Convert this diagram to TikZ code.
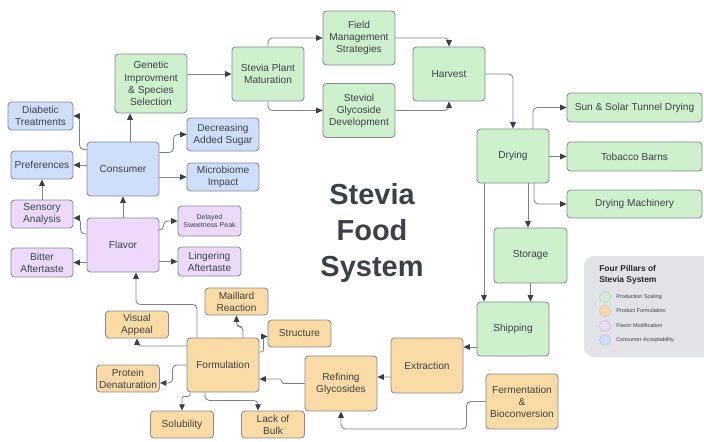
\documentclass[tikz,border=0pt]{standalone}
\usepackage{fontspec}
\setmainfont{Liberation Sans}
\usetikzlibrary{calc,arrows.meta}

\definecolor{prodfill}{HTML}{CFF0CC}
\definecolor{formfill}{HTML}{FADBA5}
\definecolor{flavfill}{HTML}{EDDAFA}
\definecolor{consfill}{HTML}{CFDEFA}
\definecolor{boxline}{HTML}{858B92}
\definecolor{wire}{HTML}{7C828A}
\definecolor{tipcol}{HTML}{3A4048}
\definecolor{ink}{HTML}{3B4149}
\definecolor{keyfill}{HTML}{E1E3E7}
\definecolor{keyline}{HTML}{C4C8CE}

\tikzset{
  pbox/.style={draw=boxline, line width=0.6pt, rounded corners=2.5pt, inner sep=0pt,
    align=center, text=ink, font=\fontsize{7.2}{8.6}\selectfont},
  bigbox/.style={pbox, minimum width=1.8cm, minimum height=1.35cm},
  sidebox/.style={pbox, minimum width=1.575cm, minimum height=0.7cm},
  longbox/.style={pbox, minimum width=3.375cm, minimum height=0.725cm},
  fillprod/.style={fill=prodfill},
  fillform/.style={fill=formfill},
  fillflav/.style={fill=flavfill},
  fillcons/.style={fill=consfill},
  lnk/.style={draw=wire, line width=0.6pt, rounded corners=3pt,
    -{Triangle[length=4.5pt,width=4pt,color=tipcol]}},
  keydot/.style={circle, draw=keyline, line width=0.5pt, minimum size=0.275cm, inner sep=0pt},
  keytext/.style={anchor=west, text=ink, inner sep=0pt, font=\fontsize{3.9}{4.5}\selectfont},
}

\begin{document}
\begin{tikzpicture}[x=0.025cm, y=-0.025cm]
		\useasboundingbox (0,0) rectangle (704,441);
		
		%%%%% PRODUCTION SCALING %%%%%
		\node[bigbox, fillprod, minimum height=1.475cm] (gene) at (151,83.5) {Genetic\\Improvment\\\& Species\\Selection};
		\node[bigbox, fillprod] (spm) at (268,74) {Stevia Plant\\Maturation};
		\node[bigbox, fillprod] (fiel) at (359,38) {Field\\Management\\Strategies};
		\node[bigbox, fillprod] (stev) at (359,110.5) {Steviol\\Glycoside\\Development};
		\node[bigbox, fillprod] (harv) at (449,74) {Harvest};
		\node[bigbox, fillprod] (dryi) at (513,156) {Drying};
		\node[longbox, fillprod] (sun) at (634.5,107.5) {Sun \& Solar Tunnel Drying};
		\node[longbox, fillprod] (toba) at (634.5,156.5) {Tobacco Barns};
		\node[longbox, fillprod, minimum height=0.7cm] (mach) at (634.5,204) {Drying Machinery};
		\node[bigbox, fillprod, minimum width=1.825cm, minimum height=1.375cm] (stor) at (530.5,255.5) {Storage};
		\node[bigbox, fillprod] (ship) at (513,329) {Shipping};
		
		%%%%% PRODUCT FORMULATION %%%%%
		\node[bigbox, fillform, minimum height=1.375cm] (extr) at (427,365.5) {Extraction};
		\node[bigbox, fillform, minimum height=1.375cm] (refi) at (341,383.5) {Refining\\Glycosides};
		\node[bigbox, fillform, minimum height=1.375cm] (ferm) at (522,401.5) {Fermentation\\\&\\Bioconversion};
		\node[bigbox, fillform] (form) at (223,365) {Formulation};
		\node[sidebox, fillform, minimum height=0.675cm] (mail) at (236.5,301.5) {Maillard\\Reaction};
		\node[sidebox, fillform, minimum height=0.675cm] (stru) at (299.5,333.5) {Structure};
		\node[sidebox, fillform, minimum height=0.675cm] (visu) at (137,324.5) {Visual\\Appeal};
		\node[sidebox, fillform, minimum height=0.675cm] (prot) at (128,378.5) {Protein\\Denaturation};
		\node[sidebox, fillform, minimum height=0.675cm] (solu) at (182,424.5) {Solubility};
		\node[sidebox, fillform, minimum height=0.675cm] (lack) at (273,424.5) {Lack of\\Bulk};
		
		%%%%% FLAVOR MODIFICATION %%%%%
		\node[bigbox, fillflav] (flav) at (123,245) {Flavor};
		\node[sidebox, fillflav, minimum width=1.55cm] (sens) at (42,214) {Sensory\\Analysis};
		\node[sidebox, fillflav, minimum width=1.55cm, minimum height=0.725cm] (bitt) at (42,262.5) {Bitter\\Aftertaste};
		\node[sidebox, fillflav, minimum height=0.75cm, font=\fontsize{5}{6.2}\selectfont] (dela) at (209.5,221) {Delayed\\Sweetness Peak};
		\node[sidebox, fillflav, minimum height=0.725cm] (ling) at (209.5,261.5) {Lingering\\Aftertaste};
		
		%%%%% CONSUMER ACCEPTABILITY %%%%%
		\node[bigbox, fillcons] (cons) at (123,169) {Consumer};
		\node[sidebox, fillcons, minimum width=1.625cm] (diab) at (40.5,116) {Diabetic\\Treatments};
		\node[sidebox, fillcons, minimum width=1.55cm] (pref) at (42,165) {Preferences};
		\node[bigbox, fillcons, minimum height=0.825cm] (decr) at (223,134.5) {Decreasing\\Added Sugar};
		\node[bigbox, fillcons, minimum height=0.7cm] (micr) at (223,177) {Microbiome\\Impact};
		
		%%%%% TITLE %%%%%
		\node[text=ink, align=center, font=\fontsize{20.6}{25.6}\selectfont\bfseries] (title) at (372,233) {Stevia\\Food\\System};
		
		%%%%% CONNECTORS %%%%%
		\draw[lnk] ($(cons.north)+(7,0)$) -- ($(gene.south)+(-21,0)$);
		\draw[lnk] (gene.east |- spm.west) -- (spm.west);
		\draw[lnk] (spm.north) |- (fiel.west);
		\draw[lnk] (spm.south) |- (stev.west);
		\draw[lnk] (fiel.east) -| (harv.north);
		\draw[lnk] (stev.east) -| (harv.south);
		\draw[lnk] (harv.east) -| (dryi.north);
		\draw[lnk] ($(dryi.north)+(20,0)$) |- (sun.west);
		\draw[lnk] (dryi.east |- toba.west) -- (toba.west);
		\draw[lnk] ($(dryi.south)+(21,0)$) |- (mach.west);
		\draw[lnk] ($(dryi.south)+(15,0)$) -- ($(stor.north)+(-2.5,0)$);
		\draw[lnk] ($(dryi.south)+(-29,0)$) -- ($(ship.north)+(-29,0)$);
		\draw[lnk] (stor.south) -- (stor.south |- ship.north);
		\draw[lnk] ($(ship.west)+(0,18)$) -- ($(extr.east)+(0,-18.5)$);
		\draw[lnk] ($(extr.west)+(0,11.5)$) -- ($(refi.east)+(0,-6.5)$);
		\draw[lnk] (ferm.west) -- ++(-19,0) -- ++(0,27.5) -| (refi.south);
		\draw[lnk, rounded corners=1.2pt] (refi.west) -- ++(-23,0) |- ($(form.east)+(0,14)$);
		\draw[lnk] ($(form.north)+(-26,0)$) -- ++(0,-33) -| ($(flav.south)+(13,0)$);
		\draw[lnk] ($(form.north)+(20,0)$) -- ++(0,-11) -| (mail.south);
		\draw[lnk, rounded corners=1.5pt] ($(form.east)+(0,-13)$) -- ++(4,0) |- ($(stru.west)+(0,3)$);
		\draw[lnk] ($(form.west)+(0,-19)$) -| (visu.south);
		\draw[lnk] (form.west) -- ++(-14,0) |- ($(prot.east)+(0,4.5)$);
		\draw[lnk, rounded corners=1.5pt] ($(form.south)+(-33,0)$) -- ++(0,4) -| (solu.north);
		\draw[lnk] ($(form.south)+(-18,0)$) -- ++(0,8) -| ($(lack.north)+(-15,0)$);
		\draw[lnk] (flav.north) -- (cons.south);
		\draw[lnk] ($(flav.west)+(0,-11)$) -- ++(-6,0) |- ($(sens.east)+(0,4)$);
		\draw[lnk] (flav.west |- bitt.east) -- (bitt.east);
		\draw[lnk] ($(flav.east)+(0,-15)$) -- ++(4,0) |- (dela.west);
		\draw[lnk] (flav.east |- ling.west) -- (ling.west);
		\draw[lnk] (sens.north) -- (pref.south);
		\draw[lnk] (cons.west |- pref.east) -- (pref.east);
		\draw[lnk] ($(cons.north west)+(0,8)$) -- ++(-7,0) |- (diab.east);
		\draw[lnk] ($(cons.north east)+(0,11)$) -- ++(14,0) |- (decr.west);
		\draw[lnk] (cons.east |- micr.west) -- (micr.west);
		
		%%%%% LEGEND %%%%%
		\fill[keyfill, rounded corners=7pt] (584,256) rectangle (714,357);
		\node[anchor=north west, align=left, text=black!85, inner sep=0pt, font=\fontsize{6}{7.6}\selectfont\bfseries] (keyhead) at (599,265) {Four Pillars of\\Stevia System};
		\node[keydot, fill=prodfill] (key1) at (605,297) {};
		\node[keydot, fill=formfill] (key2) at (605,311) {};
		\node[keydot, fill=flavfill] (key3) at (605,326) {};
		\node[keydot, fill=consfill] (key4) at (605,340) {};
		\node[keytext] (lab1) at (616,297) {Production Scaling};
		\node[keytext] (lab2) at (616,311) {Product Formulation};
		\node[keytext] (lab3) at (616,326) {Flavor Modification};
		\node[keytext] (lab4) at (616,340) {Consumer Acceptability};
		
	\end{tikzpicture}
\end{document}
